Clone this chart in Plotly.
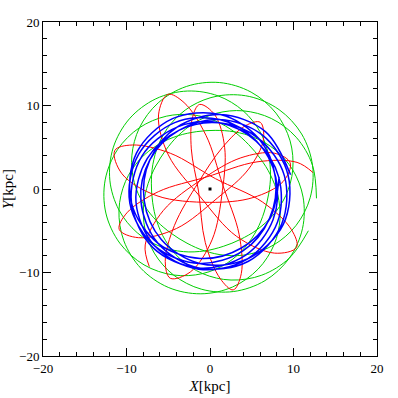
import plotly.graph_objects as go

# ---- Orbit waypoints (polar: radius in kpc, azimuth in degrees) ----
green_theta = [355, 13, 31, 49, 67, 85, 103, 121, 139, 157, 175, 193, 211, 229, 247, 265, 283, 301, 319, 337,
               355, 13, 31, 49, 67, 85, 103, 121, 139, 157, 175, 193, 211, 229, 247, 265, 283, 301, 319, 337,
               355, 13, 31, 49, 67, 85, 103, 121, 139, 157, 175, 193, 211, 229, 247, 265, 283, 301, 319, 337,
               355, 13, 31, 49, 67, 85, 103, 121, 139, 157, 175, 193, 211, 229, 247, 265, 283, 301, 319, 337,
               355, 13, 31, 49, 67, 85, 103, 121, 139, 157, 175, 193, 211, 229, 247, 265, 283, 301, 319, 337,
               355, 13, 31, 49, 67, 85, 103, 121, 139, 157, 175, 193, 211, 229, 247, 265, 283, 301, 319, 337]
green_r = [12.8, 12.6, 12.04, 11.19, 10.17, 9.11, 8.15, 7.44, 7.05, 7.05, 7.44, 8.15, 9.11, 10.17, 11.19, 12.04, 12.6,
           12.8, 12.6, 12.04, 11.19, 10.17, 9.11, 8.15, 7.44, 7.05, 7.05, 7.44, 8.15, 9.11, 10.17, 11.19, 12.04, 12.6,
           12.8, 12.6, 12.04, 11.19, 10.17, 9.11, 8.15, 7.44, 7.05, 7.05, 7.44, 8.15, 9.11, 10.17, 11.19, 12.04, 12.6,
           12.8, 12.6, 12.04, 11.19, 10.17, 9.11, 8.15, 7.44, 7.05, 7.05, 7.44, 8.15, 9.11, 10.17, 11.19, 12.04, 12.6,
           12.8, 12.6, 12.04, 11.19, 10.17, 9.11, 8.15, 7.44, 7.05, 7.05, 7.44, 8.15, 9.11, 10.17, 11.19, 12.04, 12.6,
           12.8, 12.6, 12.04, 11.19, 10.17, 9.11, 8.15, 7.44, 7.05, 7.05, 7.44, 8.15, 9.11, 10.17, 11.19, 12.04, 12.6,
           12.8, 12.6, 12.04, 11.19, 10.17, 9.11, 8.15, 7.44, 7.05, 7.05, 7.44, 8.15, 9.11, 10.17, 11.19, 12.04, 12.6,
           12.8]

blue_theta = [10, 46, 82, 118, 154, 190, 226, 262, 298, 334,
              10, 46, 82, 118, 154, 190, 226, 262, 298, 334,
              10, 46, 82, 118, 154, 190, 226, 262, 298, 334,
              10, 46, 82, 118, 154, 190, 226, 262, 298, 334,
              10, 46, 82, 118, 154, 190, 226, 262, 298, 334,
              10, 46, 82, 118, 154, 190, 226, 262, 298, 334,
              10]
blue_r = [9.8, 9.55, 9.0, 8.4, 8.0, 8.0, 8.4, 9.0, 9.5,
          9.75, 9.5, 9.0, 8.4, 7.95, 8.0, 8.4, 9.0, 9.55,
          9.8, 9.55, 9.05, 8.4, 8.0, 7.95, 8.35, 9.0, 9.5,
          9.7, 9.5, 9.0, 8.35, 7.95, 8.0, 8.4, 9.05, 9.55,
          9.8, 9.55, 9.0, 8.4, 8.0, 8.0, 8.4, 9.0, 9.5,
          9.75, 9.5, 9.0, 8.4, 7.95, 7.95, 8.4, 9.0, 9.55,
          9.8, 9.55, 9.0, 8.4, 8.0, 8.0, 8.4]

# red: apocentre tips (A F B H C I D J E K G) with the legs and pericentre passes between them
red_theta = [9, 17, 30, 106.5, 183, 196,
             204, 214.3, 229.7, 308.5, 387.3, 402.7,
             413, 420.7, 433.3, 509.5, 585.7, 598.3,
             606, 616.7, 632.3, 711.5, 790.7, 806.3,
             817, 823.5, 835, 910, 985, 996.5,
             1003, 1010.3, 1022.7, 1098.5, 1174.3, 1186.7,
             1194, 1204.8, 1220.7, 1300, 1379.3, 1395.2,
             1406, 1413.5, 1426, 1502, 1578, 1590.5,
             1598, 1610.2, 1627.3, 1708, 1788.7, 1805.8,
             1818, 1829.2, 1845.3, 1925, 2004.7, 2020.8,
             2032]
red_r = [12.5, 10.9, 6.5, 1.5, 6.2, 10.35,
         11.9, 10.35, 6.2, 1.4, 5.2, 8.7,
         10.0, 8.7, 5.2, 1.6, 6.1, 10.2,
         11.7, 10.2, 6.1, 1.5, 5.3, 8.9,
         10.2, 8.9, 5.3, 1.4, 6.45, 10.8,
         12.4, 10.8, 6.45, 1.6, 6.45, 10.8,
         12.4, 10.8, 6.45, 1.5, 6.5, 10.9,
         12.5, 10.9, 6.5, 1.4, 6.4, 10.7,
         12.3, 10.7, 6.4, 1.6, 5.25, 8.8,
         10.1, 8.8, 5.25, 1.5, 6.15, 10.25,
         11.8]

centre_x = [0]
centre_y = [0]

axis_range = [-20, 20]
major_step = 10
minor_step = 2

fig = go.Figure()

fig.add_trace(go.Scatter(x=centre_x, y=centre_y, mode='markers',
                         marker=dict(symbol='square', size=3, color='black'),
                         showlegend=False, hoverinfo='skip'))

fig.add_trace(go.Scatterpolar(r=green_r, theta=green_theta, mode='lines',
                              line=dict(color='rgb(0,205,0)', width=1, shape='spline'),
                              showlegend=False, hoverinfo='skip'))
fig.add_trace(go.Scatterpolar(r=red_r, theta=red_theta, mode='lines',
                              line=dict(color='rgb(255,0,0)', width=1, shape='spline'),
                              showlegend=False, hoverinfo='skip'))
fig.add_trace(go.Scatterpolar(r=blue_r, theta=blue_theta, mode='lines',
                              line=dict(color='rgb(0,0,255)', width=1.5, shape='spline'),
                              showlegend=False, hoverinfo='skip'))

serif = 'Liberation Serif, DejaVu Serif, serif'
tickfont = dict(family=serif, size=13, color='black')
titlefont = dict(family=serif, size=15, color='black')

def axis(title, standoff):
    return dict(range=axis_range, autorange=False, tick0=0, dtick=major_step,
                ticks='inside', ticklen=8, tickwidth=1, tickcolor='black',
                showline=True, linecolor='black', linewidth=1, mirror='allticks',
                showgrid=False, zeroline=False, automargin=False,
                minor=dict(dtick=minor_step, tick0=0, ticks='inside', ticklen=4,
                           tickwidth=1, tickcolor='black', showgrid=False),
                tickfont=tickfont,
                title=dict(text=title, font=titlefont, standoff=standoff))

fig.update_layout(
    width=398, height=398,
    margin=dict(l=43, r=21, t=22, b=42),
    plot_bgcolor='white', paper_bgcolor='white',
    xaxis=axis('<i>X</i>[kpc]', 5),
    yaxis=axis('<i>Y</i>[kpc]', 2),
    polar=dict(domain=dict(x=[0, 1], y=[0, 1]), bgcolor='rgba(0,0,0,0)',
               radialaxis=dict(visible=False, range=[0, 20], autorange=False),
               angularaxis=dict(visible=False, rotation=0, direction='counterclockwise')),
)

fig.write_html('out.html', config={'displayModeBar': False},
               post_script="document.body.style.margin='0px';")
